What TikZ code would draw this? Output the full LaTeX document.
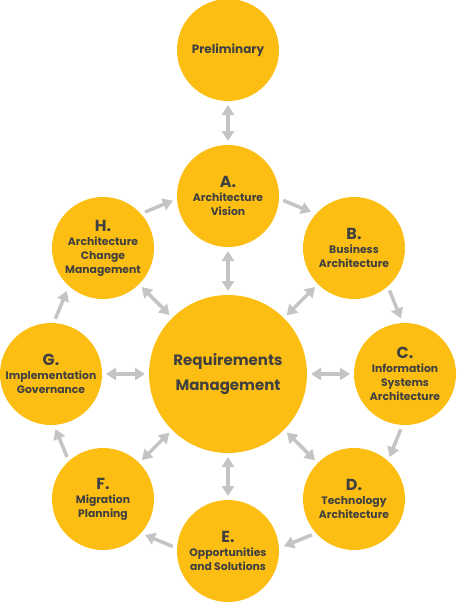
\documentclass[tikz,border=0pt]{standalone}
\usepackage{fontspec}
\setmainfont{Poppins}
\usetikzlibrary{arrows.meta,calc}
\definecolor{amber}{HTML}{FCBE12}
\definecolor{txt}{HTML}{404040}
\definecolor{arrgrey}{HTML}{C4C4C4}
\newcommand\phl[1]{{\fontsize{16}{16}\selectfont #1}}
\newcommand\ringarr[2]{\draw[arr] ($(#1)!55.4pt!17.9:(#2)$) -- ($(#1)!84.5pt!11.6:(#2)$);}
\begin{document}
\begin{tikzpicture}[x=1pt,y=-1pt,
  phase/.style={circle,fill=amber,minimum size=102pt,inner sep=0pt,outer sep=0pt,
    text=txt,align=center,font=\bfseries\fontsize{10.8}{14}\selectfont},
  arr/.style={draw=arrgrey,line width=3.5pt,-{Triangle[width=12pt,length=10pt]}},
  darr/.style={draw=arrgrey,line width=3.5pt,{Triangle[width=12pt,length=10pt]}-{Triangle[width=12pt,length=10pt]},shorten <=4pt,shorten >=4pt}]
\useasboundingbox (0,0) rectangle (456,602);
\node[phase,font=\bfseries\fontsize{12}{14}\selectfont] (P) at (228,50) {Preliminary};
\node[phase] (A) at (228,196) {\phl{A.}\\Architecture\\Vision};
\node[phase] (B) at (354,248) {\phl{B.}\\Business\\Architecture};
\node[phase] (C) at (405,374) {\phl{C.}\\Information\\Systems\\Architecture};
\node[phase] (D) at (354,499) {\phl{D.}\\Technology\\Architecture};
\node[phase] (E) at (228,551) {\phl{E.}\\Opportunities\\and Solutions};
\node[phase] (F) at (103,499) {\phl{F.}\\Migration\\Planning};
\node[phase] (G) at (51,374) {\phl{G.}\\Implementation\\Governance};
\node[phase] (H) at (103,248) {\phl{H.}\\Architecture\\Change\\Management};
\node[circle,fill=amber,minimum size=158pt,inner sep=0pt,outer sep=0pt,text=txt,align=center,
  font=\bfseries\fontsize{15}{25}\selectfont] (R) at (228,374) {Requirements\\Management};
\ringarr{A}{B}
\ringarr{B}{C}
\ringarr{C}{D}
\ringarr{D}{E}
\ringarr{E}{F}
\ringarr{F}{G}
\ringarr{G}{H}
\ringarr{H}{A}
\draw[darr] (P) -- (A);
\foreach \n in {A,B,C,D,E,F,G,H} {\draw[darr] (R) -- (\n);}
\end{tikzpicture}
\end{document}
